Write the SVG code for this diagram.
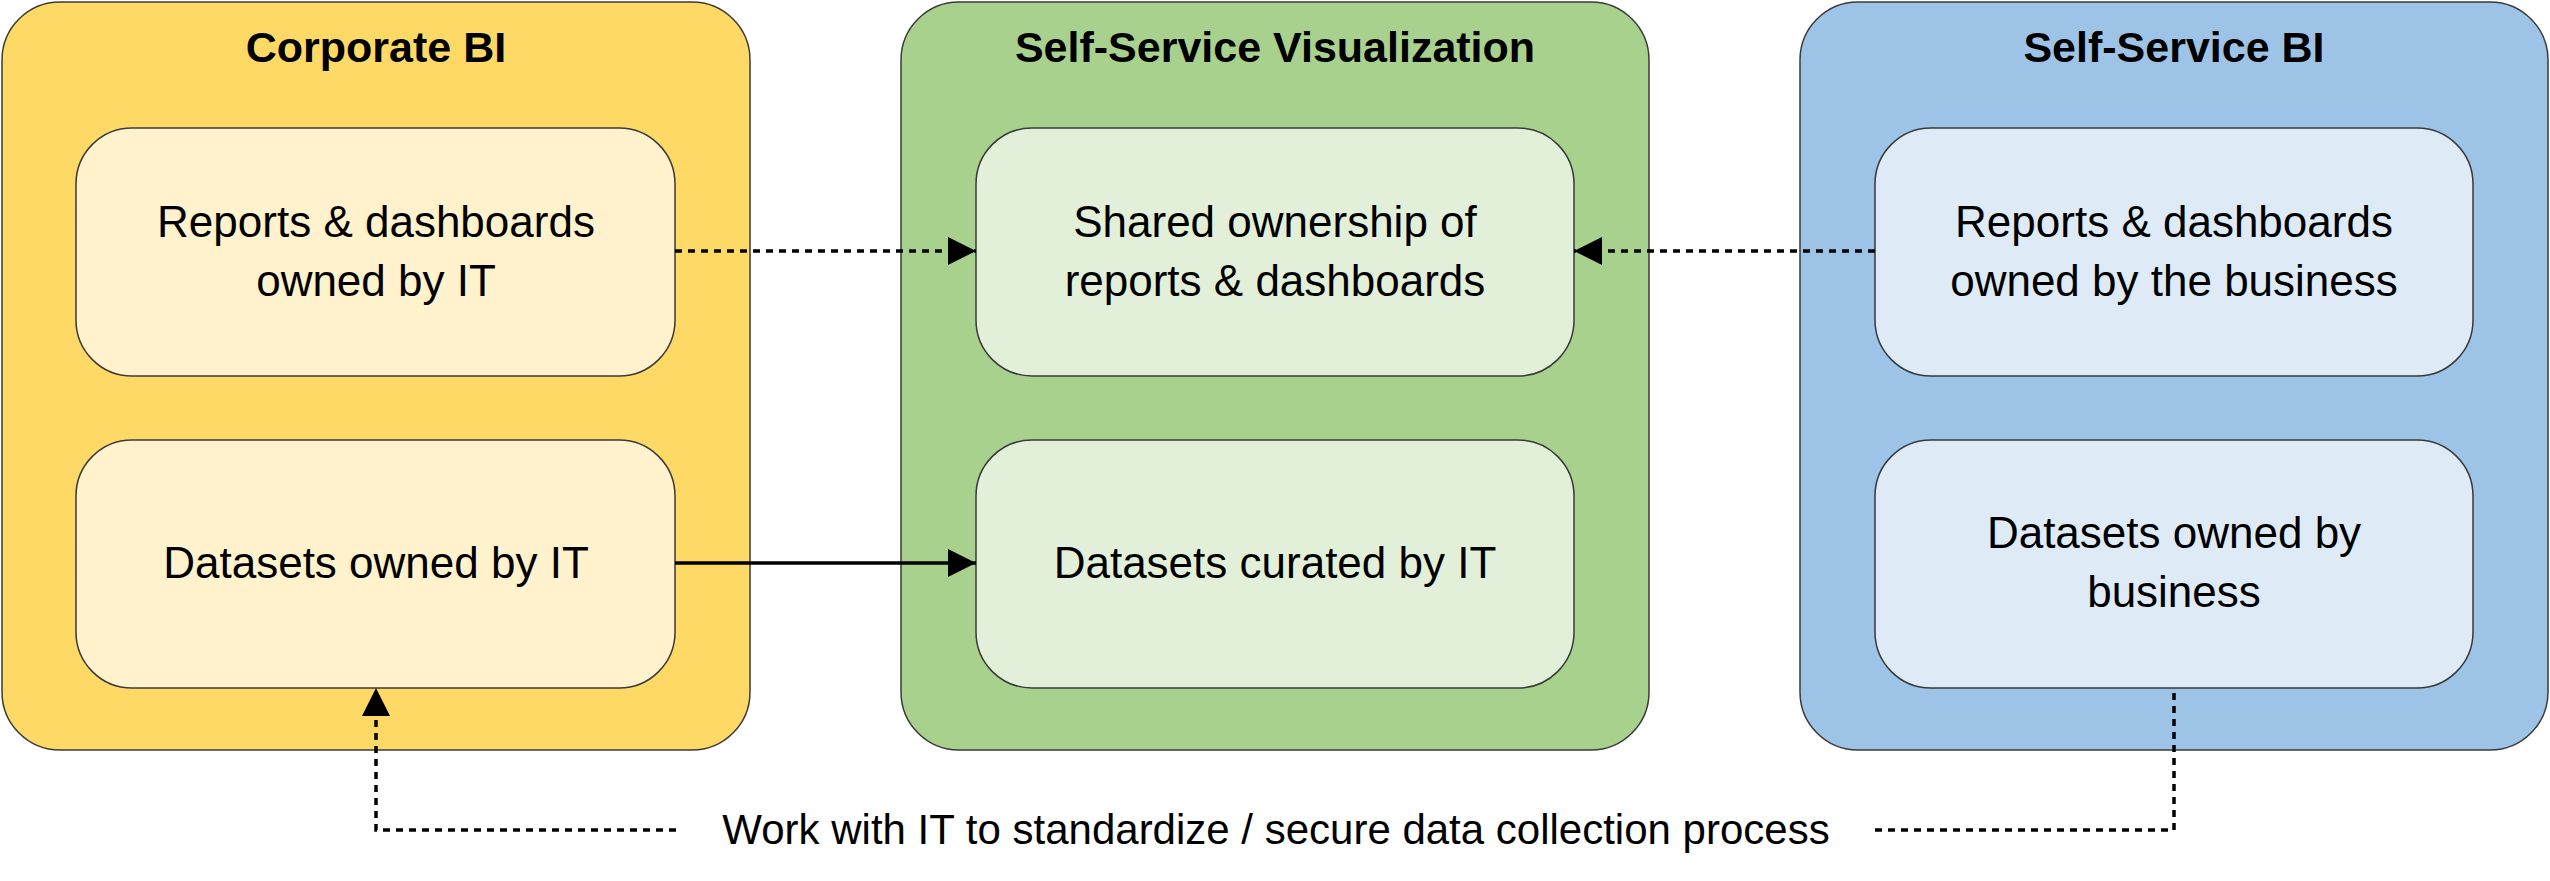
<svg xmlns="http://www.w3.org/2000/svg" width="2550" height="881" viewBox="0 0 2550 881">
<style>
.c{stroke:#3a3a3a;stroke-width:1.5}
.t{font-family:"Liberation Sans",Arial,sans-serif;font-size:44px;text-anchor:middle;fill:#000}
.b{font-size:42px}
.h{font-family:"Liberation Sans",Arial,sans-serif;font-size:43px;font-weight:bold;text-anchor:middle;fill:#000}
.ln{stroke:#000;stroke-width:3.5;fill:none}
.d{stroke-dasharray:7 6}
</style>
<defs>
<marker id="m" viewBox="0 0 28 28" refX="28" refY="14" markerWidth="28" markerHeight="28" orient="auto" markerUnits="userSpaceOnUse"><path d="M0,0 L28,14 L0,28 Z" fill="#000"/></marker></defs>
<g id="corporate"><rect class="c" x="2" y="2" width="748" height="748" rx="58" fill="#FFD966"/><text class="h" x="376" y="62">Corporate BI</text></g>
<g id="ssv"><rect class="c" x="901" y="2" width="748" height="748" rx="58" fill="#A9D18E"/><text class="h" x="1275" y="62">Self-Service Visualization</text></g>
<g id="ssbi"><rect class="c" x="1800" y="2" width="748" height="748" rx="58" fill="#9DC3E6"/><text class="h" x="2174" y="62">Self-Service BI</text></g>
<g id="c1"><rect class="c" x="76" y="128" width="599" height="248" rx="56" fill="#FFF2CC"/><text class="t" x="376" y="237">Reports &amp; dashboards</text><text class="t" x="376" y="296">owned by IT</text></g>
<g id="c2"><rect class="c" x="76" y="440" width="599" height="248" rx="56" fill="#FFF2CC"/><text class="t" x="376" y="578">Datasets owned by IT</text></g>
<g id="v1"><rect class="c" x="976" y="128" width="598" height="248" rx="56" fill="#E2F0D9"/><text class="t" x="1275" y="237">Shared ownership of</text><text class="t" x="1275" y="296">reports &amp; dashboards</text></g>
<g id="v2"><rect class="c" x="976" y="440" width="598" height="248" rx="56" fill="#E2F0D9"/><text class="t" x="1275" y="578">Datasets curated by IT</text></g>
<g id="b1"><rect class="c" x="1875" y="128" width="598" height="248" rx="56" fill="#DEEBF7"/><text class="t" x="2174" y="237">Reports &amp; dashboards</text><text class="t" x="2174" y="296">owned by the business</text></g>
<g id="b2"><rect class="c" x="1875" y="440" width="598" height="248" rx="56" fill="#DEEBF7"/><text class="t" x="2174" y="548">Datasets owned by</text><text class="t" x="2174" y="607">business</text></g>
<g id="connectors">
<path class="ln d" d="M675,251 H976" marker-end="url(#m)"/>
<path class="ln" d="M675,563 H976" marker-end="url(#m)"/>
<path class="ln d" d="M1875,251 H1574" marker-end="url(#m)"/>
<path class="ln d" d="M676,830 H376 V688" marker-end="url(#m)"/>
<path class="ln d" d="M1875,830 H2174 V688"/>
<text class="t b" x="1276" y="844">Work with IT to standardize / secure data collection process</text>
</g>
</svg>
